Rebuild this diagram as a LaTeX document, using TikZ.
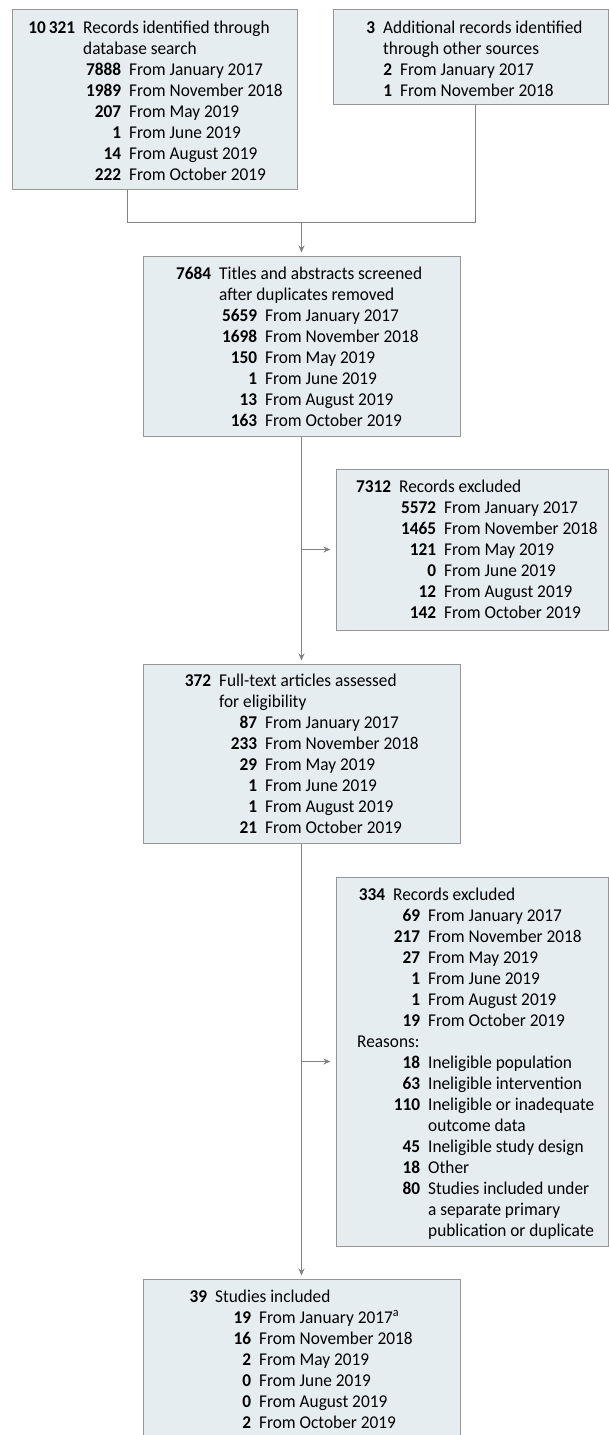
\documentclass[tikz,border=0pt]{standalone}
\usepackage{fontspec}
\setmainfont{Carlito}[FakeStretch=0.96]
\usetikzlibrary{arrows.meta}
\definecolor{boxfill}{RGB}{230,237,241}
\definecolor{boxline}{RGB}{150,150,150}
\definecolor{connc}{RGB}{130,130,130}
\newcommand\hd[2]{\llap{\textbf{#1}\hspace{8pt}}#2}
\newcommand\subln[3]{\hspace*{#1}\llap{\textbf{#2}\hspace{8pt}}#3}
\newcommand\boxlines[1]{\parbox[t]{300pt}{\fontsize{18pt}{21pt}\selectfont\raggedright\noindent #1}}
\begin{document}
\begin{tikzpicture}[x=1pt,y=-1pt,
  box/.style={draw=boxline, fill=boxfill, line width=1pt, inner sep=0pt},
  txt/.style={inner sep=0pt, anchor=base west},
  conn/.style={draw=connc, line width=1pt},
  arr/.style={conn, -{Stealth[length=7pt,width=6pt]}, shorten >=3pt},
  sidearr/.style={arr, shorten >=5pt}]
\useasboundingbox (0,0) rectangle (609,1435);
\clip (0,0) rectangle (609,1435);
% boxes
\node[box, minimum width=285pt, minimum height=180pt] (A) at (154.5,99) {};
\node[box, minimum width=275.5pt, minimum height=95pt] (B) at (470.75,56.5) {};
\node[box, minimum width=317pt, minimum height=180pt] (C) at (301.5,346) {};
\node[box, minimum width=272.5pt, minimum height=161pt] (D) at (472.25,549.5) {};
\node[box, minimum width=317pt, minimum height=179pt] (E) at (301.5,753.5) {};
\node[box, minimum width=272.5pt, minimum height=369pt] (F) at (472.25,1061.5) {};
\node[box, minimum width=317pt, minimum height=166pt] (G) at (301.5,1362) {};
% connectors
\coordinate (jl) at (127,222);
\coordinate (jr) at (475,222);
\coordinate (jm) at (301.5,222);
\draw[conn] (A.south -| jl) -- (jl) -- (jr) -- (B.south -| jr);
\draw[arr] (jm) -- (C.north);
\draw[arr] (C.south) -- (E.north);
\draw[sidearr] (C.south |- D.west) -- (D.west);
\draw[arr] (E.south) -- (G.north);
\draw[sidearr] (E.south |- F.west) -- (F.west);
% texts
\node[txt] (tA) at (83,33) {\boxlines{%
\hd{10\,321}{Records identified through}\\
database search\\
\subln{46pt}{7888}{From January 2017}\\
\subln{46pt}{1989}{From November 2018}\\
\subln{46pt}{207}{From May 2019}\\
\subln{46pt}{1}{From June 2019}\\
\subln{46pt}{14}{From August 2019}\\
\subln{46pt}{222}{From October 2019}}};
\node[txt] (tB) at (383,33) {\boxlines{%
\hd{3}{Additional records identified}\\
through other sources\\
\subln{17pt}{2}{From January 2017}\\
\subln{17pt}{1}{From November 2018}}};
\node[txt] (tC) at (219,279) {\boxlines{%
\hd{7684}{Titles and abstracts screened}\\
after duplicates removed\\
\subln{46pt}{5659}{From January 2017}\\
\subln{46pt}{1698}{From November 2018}\\
\subln{46pt}{150}{From May 2019}\\
\subln{46pt}{1}{From June 2019}\\
\subln{46pt}{13}{From August 2019}\\
\subln{46pt}{163}{From October 2019}}};
\node[txt] (tD) at (399,492) {\boxlines{%
\hd{7312}{Records excluded}\\
\subln{45pt}{5572}{From January 2017}\\
\subln{45pt}{1465}{From November 2018}\\
\subln{45pt}{121}{From May 2019}\\
\subln{45pt}{0}{From June 2019}\\
\subln{45pt}{12}{From August 2019}\\
\subln{45pt}{142}{From October 2019}}};
\node[txt] (tE) at (219,686) {\boxlines{%
\hd{372}{Full-text articles assessed}\\
for eligibility\\
\subln{46pt}{87}{From January 2017}\\
\subln{46pt}{233}{From November 2018}\\
\subln{46pt}{29}{From May 2019}\\
\subln{46pt}{1}{From June 2019}\\
\subln{46pt}{1}{From August 2019}\\
\subln{46pt}{21}{From October 2019}}};
\node[txt] (tF) at (393,900) {\boxlines{%
\hd{334}{Records excluded}\\
\subln{35pt}{69}{From January 2017}\\
\subln{35pt}{217}{From November 2018}\\
\subln{35pt}{27}{From May 2019}\\
\subln{35pt}{1}{From June 2019}\\
\subln{35pt}{1}{From August 2019}\\
\subln{35pt}{19}{From October 2019}\\
\hspace*{-36pt}Reasons:\\
\subln{35pt}{18}{Ineligible population}\\
\subln{35pt}{63}{Ineligible intervention}\\
\subln{35pt}{110}{Ineligible or inadequate}\\
\hspace*{35pt}outcome data\\
\subln{35pt}{45}{Ineligible study design}\\
\subln{35pt}{18}{Other}\\
\subln{35pt}{80}{Studies included under}\\
\hspace*{35pt}a separate primary\\
\hspace*{35pt}publication or duplicate}};
\node[txt] (tG) at (215,1302) {\boxlines{%
\hd{39}{Studies included}\\
\subln{44pt}{19}{From January 2017\textsuperscript{a}}\\
\subln{44pt}{16}{From November 2018}\\
\subln{44pt}{2}{From May 2019}\\
\subln{44pt}{0}{From June 2019}\\
\subln{44pt}{0}{From August 2019}\\
\subln{44pt}{2}{From October 2019}}};
\end{tikzpicture}
\end{document}
